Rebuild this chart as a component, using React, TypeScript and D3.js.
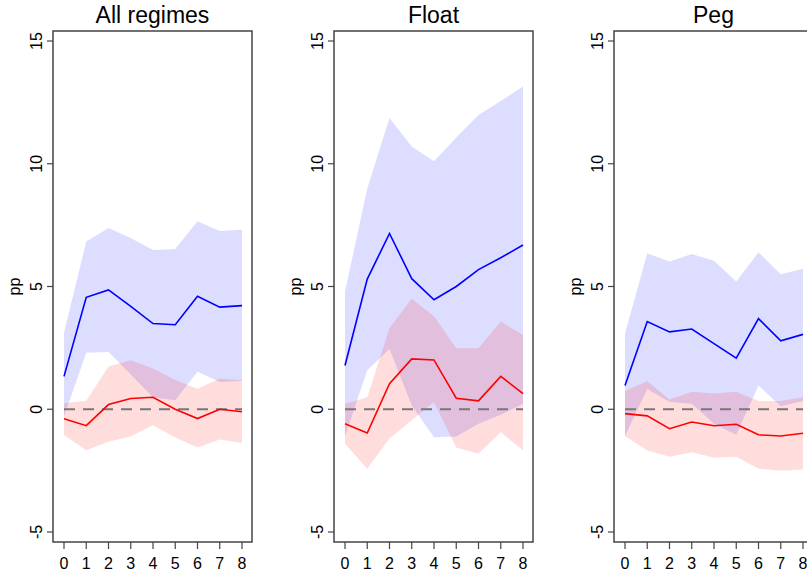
import * as d3 from "d3";

// Horizons
const horizons = [0, 1, 2, 3, 4, 5, 6, 7, 8];
const yTicks = [-5, 0, 5, 10, 15];
const titles = ["All regimes", "Float", "Peg"];

// All regimes
const allBlue = [1.34, 4.56, 4.86, 4.19, 3.49, 3.44, 4.6, 4.16, 4.22];
const allBlueHi = [3.12, 6.83, 7.38, 6.98, 6.49, 6.53, 7.66, 7.26, 7.31];
const allBlueLo = [-0.3, 2.3, 2.33, 1.42, 0.49, 0.37, 1.53, 1.11, 1.15];
const allRed = [-0.39, -0.67, 0.19, 0.44, 0.49, 0.0, -0.38, 0.0, -0.1];
const allRedHi = [0.24, 0.35, 1.74, 2.0, 1.66, 1.19, 0.84, 1.25, 1.18];
const allRedLo = [-1.05, -1.67, -1.32, -1.11, -0.65, -1.15, -1.56, -1.23, -1.37];

// Float
const floatBlue = [1.78, 5.3, 7.16, 5.32, 4.46, 5.0, 5.69, 6.17, 6.69];
const floatBlueHi = [4.8, 8.99, 11.86, 10.7, 10.1, 11.07, 11.99, 12.56, 13.15];
const floatBlueLo = [-1.1, 1.59, 2.45, 0.15, -1.14, -1.11, -0.59, -0.22, 0.22];
const floatRed = [-0.59, -0.97, 1.04, 2.05, 2.01, 0.45, 0.34, 1.34, 0.64];
const floatRedHi = [0.22, 0.49, 3.31, 4.5, 3.79, 2.48, 2.48, 3.57, 3.02];
const floatRedLo = [-1.41, -2.42, -1.19, -0.45, 0.3, -1.56, -1.81, -0.94, -1.67];

// Peg
const pegBlue = [0.97, 3.57, 3.15, 3.27, 2.67, 2.08, 3.69, 2.79, 3.05];
const pegBlueHi = [3.09, 6.35, 6.02, 6.32, 6.05, 5.2, 6.39, 5.5, 5.72];
const pegBlueLo = [-1.09, 0.82, 0.3, 0.22, -0.59, -1.04, 0.97, 0.12, 0.34];
const pegRed = [-0.18, -0.27, -0.79, -0.52, -0.67, -0.61, -1.04, -1.09, -0.98];
const pegRedHi = [0.74, 1.14, 0.4, 0.71, 0.64, 0.71, 0.34, 0.34, 0.49];
const pegRedLo = [-1.09, -1.68, -1.93, -1.75, -1.98, -1.93, -2.42, -2.5, -2.45];

const panels = [
  { blue: allBlue, blueHi: allBlueHi, blueLo: allBlueLo, red: allRed, redHi: allRedHi, redLo: allRedLo },
  { blue: floatBlue, blueHi: floatBlueHi, blueLo: floatBlueLo, red: floatRed, redHi: floatRedHi, redLo: floatRedLo },
  { blue: pegBlue, blueHi: pegBlueHi, blueLo: pegBlueLo, red: pegRed, redHi: pegRedHi, redLo: pegRedLo },
];

const W = 807;
const H = 574;
const boxLefts = [53, 334, 614];
const boxW = 199;
const boxTop = 31;
const boxBottom = 542;
const font = "Liberation Sans, Arial, sans-serif";

const y = d3.scaleLinear().domain([-5, 15]).range([532, 41]);

function Panel({ idx }: { idx: number }) {
  const left = boxLefts[idx];
  const p = panels[idx];
  const x = d3.scaleLinear().domain([0, 8]).range([left + 11, left + 189]);

  const band = (lo: number[], hi: number[]) =>
    d3
      .area<number>()
      .x((d) => x(d))
      .y0((d) => y(lo[d]))
      .y1((d) => y(hi[d]))(horizons) as string;
  const line = (vals: number[]) =>
    d3
      .line<number>()
      .x((d) => x(d))
      .y((d) => y(vals[d]))(horizons) as string;

  const cx = left + boxW / 2;

  return (
    <g>
      <text x={cx} y={23} textAnchor="middle" fontFamily={font} fontSize={23} fill="#000">
        {titles[idx]}
      </text>
      <path d={band(p.blueLo, p.blueHi)} fill="#0000ff" fillOpacity={0.135} stroke="none" />
      <path d={band(p.redLo, p.redHi)} fill="#ff0000" fillOpacity={0.135} stroke="none" />
      <line
        x1={x(0)}
        x2={x(8)}
        y1={y(0)}
        y2={y(0)}
        stroke="#777"
        strokeWidth={2}
        strokeDasharray="11 8"
      />
      <path d={line(p.blue)} fill="none" stroke="#0000ff" strokeWidth={1.6} />
      <path d={line(p.red)} fill="none" stroke="#ff0000" strokeWidth={1.6} />
      <rect
        x={left}
        y={boxTop}
        width={boxW}
        height={boxBottom - boxTop}
        fill="none"
        stroke="#444"
        strokeWidth={1.5}
      />
      {yTicks.map((t) => (
        <g key={t}>
          <line x1={left - 6} x2={left} y1={y(t)} y2={y(t)} stroke="#444" strokeWidth={1.2} />
          <text
            transform={`translate(${left - 11},${y(t)}) rotate(-90)`}
            textAnchor="middle"
            fontFamily={font}
            fontSize={16}
            fill="#000"
          >
            {t}
          </text>
        </g>
      ))}
      <text
        transform={`translate(${left - 33},${(boxTop + boxBottom) / 2}) rotate(-90)`}
        textAnchor="middle"
        fontFamily={font}
        fontSize={16}
        fill="#000"
      >
        pp
      </text>
      {horizons.map((h) => (
        <g key={h}>
          <line x1={x(h)} x2={x(h)} y1={boxBottom} y2={boxBottom + 7} stroke="#444" strokeWidth={1.2} />
          <text x={x(h)} y={569} textAnchor="middle" fontFamily={font} fontSize={16} fill="#000">
            {h}
          </text>
        </g>
      ))}
    </g>
  );
}

export default function App() {
  return (
    <svg
      width={W}
      height={H}
      style={{ position: "absolute", left: 0, top: 0, background: "#fff" }}
    >
      <rect width={W} height={H} fill="#fff" />
      {titles.map((_, i) => (
        <Panel key={i} idx={i} />
      ))}
    </svg>
  );
}
